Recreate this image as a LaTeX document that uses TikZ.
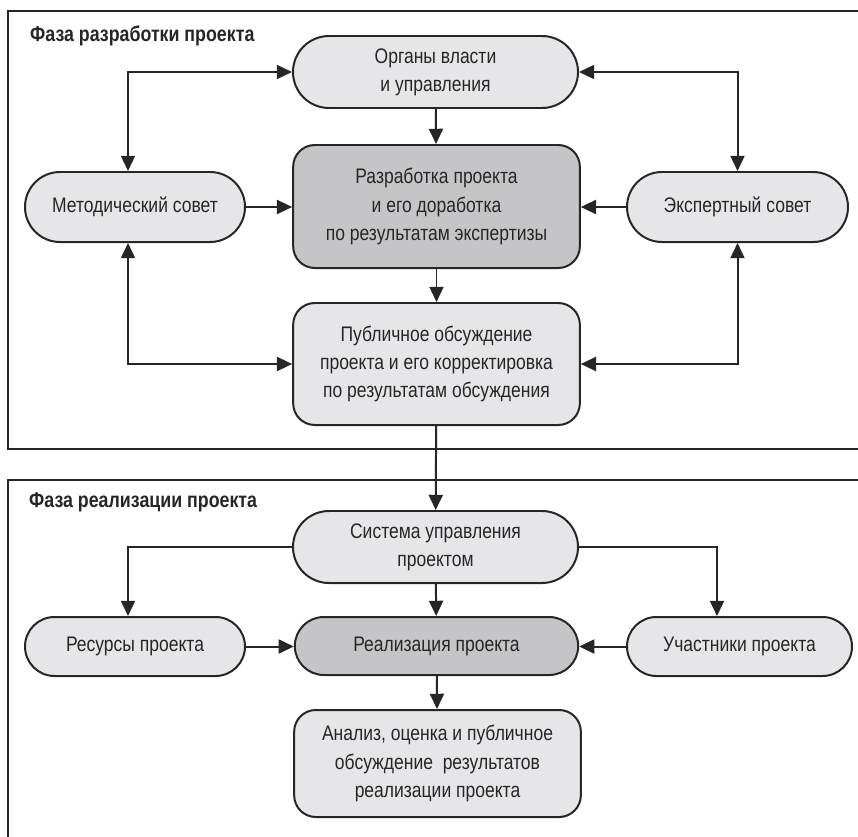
\documentclass[tikz,border=0pt]{standalone}
\usepackage{fontspec}
\setmainfont{Liberation Sans}[FakeStretch=0.83]
\usetikzlibrary{arrows.meta,positioning,shapes.misc}
\definecolor{boxfill}{HTML}{E6E6E8}
\definecolor{boxfilldark}{HTML}{C5C5C7}
\definecolor{inkgray}{HTML}{262626}

\begin{document}
\begin{tikzpicture}[x=0.03cm, y=-0.03cm,
  pill/.style={draw=inkgray, line width=1.7pt, rounded rectangle, fill=boxfill, inner sep=0pt, align=center, font=\fontsize{18}{24}\selectfont, text=inkgray},
  pilldark/.style={pill, fill=boxfilldark},
  card/.style={draw=inkgray, line width=1.7pt, rounded corners=0.65cm, fill=boxfill, inner sep=0pt, align=center, font=\fontsize{18}{24}\selectfont, text=inkgray, minimum width=8.6cm},
  carddark/.style={card, fill=boxfilldark},
  phase/.style={draw=inkgray, line width=1.6pt},
  phasetitle/.style={anchor=west, font=\fontsize{18.3}{21}\selectfont\bfseries, text=inkgray, inner sep=0pt},
  arr/.style={-{Triangle[length=13pt, width=12pt]}, line width=1.7pt, inkgray},
  dblarr/.style={{Triangle[length=13pt, width=12pt]}-{Triangle[length=13pt, width=12pt]}, line width=1.7pt, inkgray}
]
  \useasboundingbox (0,0) rectangle (858,837);

  % phase frames
  \draw[phase] (8,11) rectangle (880,449);
  \draw[phase] (8,480) rectangle (880,880);
  \node[phasetitle] (devphase) at (30,36) {Фаза разработки проекта};
  \node[phasetitle] (realphase) at (29,502) {Фаза реализации проекта};

  % development phase
  \node[pill, minimum width=8.55cm, minimum height=2.16cm] (organs) at (435.5,72) {Органы власти\\и управления};
  \node[carddark, minimum height=3.69cm] (develop) at (436.5,206.5) {Разработка проекта\\и его доработка\\по результатам экспертизы};
  \node[card, minimum height=3.66cm] (discuss) at (436.5,364) {Публичное обсуждение\\проекта и его корректировка\\по результатам обсуждения};
  \node[pill, minimum width=6.6cm, minimum height=2.1cm] (method) at (135,207) {Методический совет};
  \node[pill, minimum width=6.63cm, minimum height=2.1cm] (expert) at (737.5,207) {Экспертный совет};

  % realisation phase
  \node[pill, minimum width=8.55cm, minimum height=2.16cm] (control) at (435.5,547) {Система управления\\проектом};
  \node[pilldark, minimum width=8.5cm, minimum height=1.74cm] (realize) at (436.5,646) {Реализация проекта};
  \node[card, minimum height=3.21cm] (analysis) at (437.5,763.5) {Анализ, оценка и публичное\\обсуждение\ \ результатов\\реализации проекта};
  \node[pill, minimum width=6.6cm, minimum height=1.77cm] (resources) at (135,646.5) {Ресурсы проекта};
  \node[pill, minimum width=6.75cm, minimum height=1.77cm] (members) at (739.5,646.5) {Участники проекта};

  \coordinate (leftline) at (128,0);
  \coordinate (rightline) at (717,0);

  \draw[arr] (organs) -- (develop);
  \draw[arr] (develop) -- (discuss);
  \draw[arr] (method.east) -- (method.east -| develop.west);
  \draw[arr] (expert.west) -- (expert.west -| develop.east);
  \draw[dblarr] (method.north -| leftline) |- (organs.west);
  \draw[dblarr] (organs.east) -| (expert.north);
  \draw[dblarr] (method.south -| leftline) |- (discuss.west);
  \draw[dblarr] (expert.south) |- (discuss.east);

  \draw[arr] (discuss) -- (control);
  \draw[arr] (control.west) -| (resources.north -| leftline);
  \draw[arr] (control.east) -| (members.north -| rightline);
  \draw[arr] (control) -- (realize);
  \draw[arr] (resources.east) -- (resources.east -| realize.west);
  \draw[arr] (members.west) -- (members.west -| realize.east);
  \draw[arr] (realize) -- (analysis);
\end{tikzpicture}
\end{document}
